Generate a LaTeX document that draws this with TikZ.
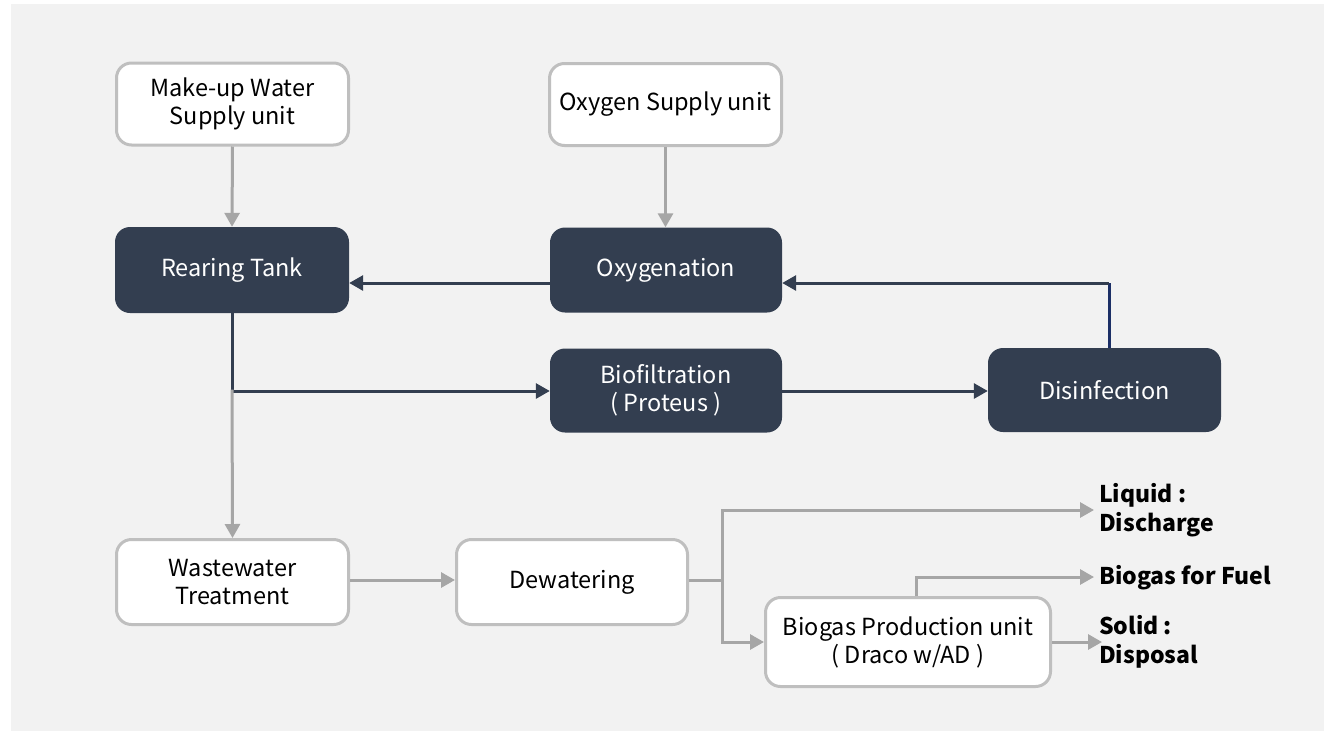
\documentclass[tikz,border=0pt]{standalone}
\usepackage{fontspec}
\setmainfont{Noto Sans CJK KR}
\usetikzlibrary{arrows.meta}
\definecolor{panel}{HTML}{F2F2F2}
\definecolor{navy}{HTML}{333E50}
\definecolor{edge}{HTML}{BFBFBF}
\definecolor{flow}{HTML}{A6A6A6}
\definecolor{deepblue}{HTML}{1C2F66}
\tikzset{
  lightbox/.style={draw=edge, line width=3pt, fill=white, rounded corners=15pt,
    inner sep=0pt, align=center, font=\fontsize{23.5}{28}\selectfont, text=black},
  darkbox/.style={fill=navy, rounded corners=15pt, inner sep=0pt, align=center,
    font=\fontsize{23.5}{28}\selectfont, text=white},
  outlabel/.style={anchor=west, inner sep=0pt, align=left,
    font=\fontsize{23}{28.5}\selectfont\bfseries, text=black},
  greyflow/.style={draw=flow, line width=3pt, -{Triangle[length=14pt,width=15pt]}},
  greyline/.style={draw=flow, line width=3pt},
  darkflow/.style={draw=navy, line width=3pt, -{Triangle[length=14pt,width=15pt]}},
}
\begin{document}
\begin{tikzpicture}[x=1pt, y=-1pt]
  % canvas and grey panel
  \useasboundingbox (0,0) rectangle (1332,731);
  \fill[white] (0,0) rectangle (1332,731);
  \fill[panel] (11,4) rectangle (1324,731);

  % process units
  \node[lightbox, minimum width=232pt, minimum height=82pt] (makeup) at (232.5,104) {Make-up Water\\Supply unit};
  \node[darkbox, minimum width=234pt, minimum height=86pt] (rearing) at (232,270) {Rearing Tank};
  \node[lightbox, minimum width=232pt, minimum height=82pt] (oxsupply) at (665.5,104.5) {Oxygen Supply unit};
  \node[darkbox, minimum width=232pt, minimum height=85pt] (oxygen) at (666,270) {Oxygenation};
  \node[darkbox, minimum width=232pt, minimum height=84pt] (biofilt) at (666,390.5) {Biofiltration\\( Proteus )};
  \node[darkbox, minimum width=233pt, minimum height=84pt] (disinf) at (1104.5,390) {Disinfection};
  \node[lightbox, minimum width=232pt, minimum height=85pt] (waste) at (232.5,582) {Wastewater\\Treatment};
  \node[lightbox, minimum width=231pt, minimum height=85pt] (dewater) at (572,582) {Dewatering};
  \node[lightbox, minimum width=285pt, minimum height=89pt] (biogas) at (908,642) {Biogas Production unit\\( Draco w/AD )};

  % outputs
  \node[outlabel] (liquid) at (1099,510) {Liquid :\\Discharge};
  \node[outlabel] (fuel) at (1099,578) {Biogas for Fuel};
  \node[outlabel] (solid) at (1099,642) {Solid :\\Disposal};

  % junction points
  \coordinate (tapRT) at (232,391);
  \coordinate (split) at (722,580);
  \coordinate (retTop) at (1109,283);

  % supply lines
  \draw[greyflow] (makeup.south) -- (rearing.north);
  \draw[greyflow] (oxsupply.south) -- (oxsupply.south |- oxygen.north);

  % recirculating water loop
  \draw[darkflow] (oxygen.west |- 0,283) -- (rearing.east |- 0,283);
  \draw[darkflow] (rearing.south) -- (tapRT) -- (biofilt.west |- 0,391);
  \draw[darkflow] (biofilt.east |- 0,391) -- (disinf.west |- 0,391);
  \draw[draw=deepblue, line width=3pt] (disinf.north -| retTop) -- (retTop);
  \draw[darkflow] (retTop) -- (oxygen.east |- retTop);

  % waste stream
  \draw[greyflow] ([yshift=1.5pt]tapRT) -- (waste.north);
  \draw[greyflow] (waste.east |- 0,580) -- (dewater.west |- 0,580);
  \draw[greyline] (dewater.east |- split) -- (split);
  \draw[greyflow] (split) -- (722,510) -- ([xshift=-5pt]liquid.west);
  \draw[greyflow] (split) -- (722,642) -- (biogas.west |- 0,642);
  \draw[greyflow] (biogas.north -| 916,0) -- (916,577) -- ([xshift=-5pt]fuel.west |- 0,577);
  \draw[greyflow] (biogas.east |- 0,642) -- ([xshift=3pt]solid.west);
\end{tikzpicture}
\end{document}
